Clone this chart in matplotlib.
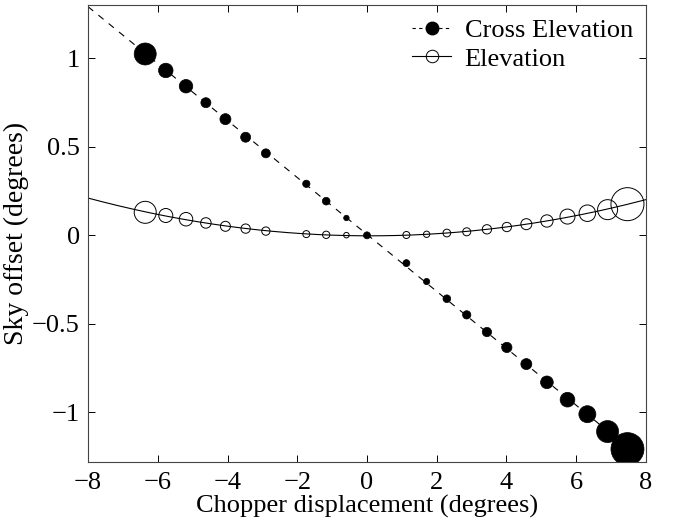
import numpy as np
import matplotlib
matplotlib.use("Agg")
import matplotlib.pyplot as plt
from matplotlib.lines import Line2D

plt.rcParams['font.family'] = ['Liberation Serif', 'DejaVu Serif']

# Cross elevation (filled markers)
cross_x = [-6.36, -5.77, -5.19, -4.62, -4.06, -3.48, -2.90, -1.74, -1.17, -0.59, 0.0,
           1.13, 1.71, 2.29, 2.86, 3.44, 4.01, 4.57, 5.16, 5.75, 6.32, 6.90, 7.47]
cross_y = [1.024, 0.931, 0.842, 0.749, 0.656, 0.554, 0.463, 0.291, 0.193, 0.098, 0.0,
           -0.157, -0.261, -0.358, -0.449, -0.546, -0.633, -0.727, -0.830, -0.928, -1.010, -1.108, -1.207]
cross_d = [22, 14.5, 13.5, 10, 11, 10, 9, 7.3, 7.7, 5.5, 7,
           7, 6.3, 7.7, 8.3, 9.3, 10.3, 11, 12.7, 14.7, 17, 22, 33]

# Elevation (open markers)
elev_x = [-6.36, -5.77, -5.19, -4.62, -4.06, -3.48, -2.90, -1.74, -1.17, -0.59,
          1.13, 1.71, 2.29, 2.86, 3.44, 4.01, 4.57, 5.16, 5.75, 6.32, 6.90, 7.47]
elev_y = [0.130, 0.112, 0.091, 0.070, 0.051, 0.038, 0.024, 0.007, 0.003, 0.001,
          0.002, 0.006, 0.013, 0.020, 0.034, 0.047, 0.063, 0.081, 0.106, 0.125, 0.145, 0.176]
elev_d = [22, 14, 13.5, 10.5, 10, 9.3, 8.3, 7, 7.3, 5.5,
          7, 6.3, 7.7, 8, 9.3, 9.3, 11, 12.3, 15, 16.5, 20, 33]

xticks = [-8, -6, -4, -2, 0, 2, 4, 6, 8]
yticks = [-1, -0.5, 0, 0.5, 1]
xticklabels = ['\u22128', '\u22126', '\u22124', '\u22122', '0', '2', '4', '6', '8']
yticklabels = ['\u22121', '\u22120.5', '0', '0.5', '1']
xlabel = "Chopper displacement (degrees)"
ylabel = "Sky offset (degrees)"
labels = ["Cross Elevation", "Elevation"]

fig = plt.figure(figsize=(6.73, 5.27), dpi=100)
ax = fig.add_axes([0.1308, 0.1233, 0.829, 0.867])

xx = np.linspace(-8, 8, 400)
lin = np.polyfit(cross_x, cross_y, 1)
par = np.polyfit(elev_x, elev_y, 2)
ax.plot(xx, np.polyval(lin, xx), color='black', lw=0.8, ls=(0, (6, 6)))
ax.plot(xx, np.polyval(par, xx), color='black', lw=0.8, ls='-')

px2pt = 72 / 100
ax.scatter(cross_x, cross_y, s=(np.array(cross_d) * px2pt) ** 2, facecolor='black',
           edgecolor='black', linewidths=0.5, zorder=3)
ax.scatter(elev_x, elev_y, s=(np.array(elev_d) * px2pt) ** 2, facecolor='none',
           edgecolor='black', linewidths=0.7, zorder=3)

ax.set_xlim(-8, 8)
ax.set_ylim(-1.28, 1.30)
ax.set_xticks(xticks)
ax.set_yticks(yticks)
ax.set_xticklabels(xticklabels)
ax.set_yticklabels(yticklabels)
ax.tick_params(direction='in', top=True, right=True, labelsize=19, length=5, width=0.7)
ax.tick_params(axis='x', pad=7)
ax.tick_params(axis='y', pad=6)
for sp in ax.spines.values():
    sp.set_linewidth(0.8)
    sp.set_color('#444444')
ax.set_xlabel(xlabel, fontsize=19, labelpad=1)
ax.set_ylabel(ylabel, fontsize=20, labelpad=2)

handles = [Line2D([], [], color='black', lw=0.8, ls=(0, (3, 3)), marker='o', ms=9,
                  mfc='black', mec='black'),
           Line2D([], [], color='black', lw=0.8, ls='-', marker='o', ms=9,
                  mfc='none', mec='black', mew=0.7)]
ax.legend(handles, labels, loc='upper right', frameon=False, fontsize=19,
          handlelength=1.5, handletextpad=0.5, borderaxespad=0.2, labelspacing=0.2,
          borderpad=0.3)

fig.savefig('out.png', dpi=100)
